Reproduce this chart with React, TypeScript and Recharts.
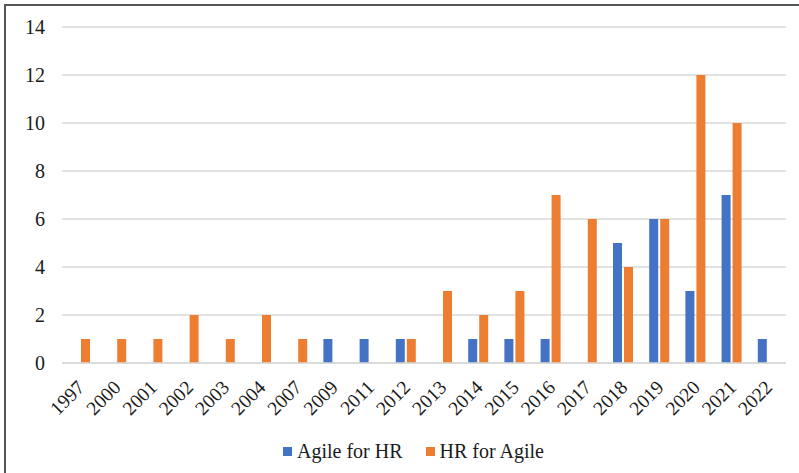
import React from "react";
import { BarChart, Bar, XAxis, YAxis, CartesianGrid } from "recharts";

const years = ["1997","2000","2001","2002","2003","2004","2007","2009","2011","2012","2013","2014","2015","2016","2017","2018","2019","2020","2021","2022"];
const agileForHR = [0,0,0,0,0,0,0,1,1,1,0,1,1,1,0,5,6,3,7,1];
const hrForAgile = [1,1,1,2,1,2,1,0,0,1,3,2,3,7,6,4,6,12,10,0];
const yTicks = [0,2,4,6,8,10,12,14];
const seriesNames = ["Agile for HR","HR for Agile"];
const seriesColors = ["#4472C4","#ED7D31"];

const data = years.map((y, i) => ({ year: y, a: agileForHR[i], h: hrForAgile[i] }));

const FONT = "'Liberation Serif', 'Times New Roman', serif";
const AXIS_Y = 363;

const XTick = (props: any) => {
  const { x, payload } = props;
  const ty = AXIS_Y + 21;
  return (
    <text
      x={x + 1}
      y={ty}
      transform={`rotate(-45, ${x + 1}, ${ty})`}
      textAnchor="end"
      dominantBaseline="central"
      fontFamily={FONT}
      fontSize={19.5}
      fill="#1a1a1a"
    >
      {payload.value}
    </text>
  );
};

export default function App() {
  return (
    <div style={{ position: "absolute", left: 0, top: 0, width: 799, height: 473, background: "#fff", overflow: "hidden" }}>
      <div style={{ position: "absolute", left: 4, top: 4, width: 800, height: 480, borderLeft: "2px solid #555", borderTop: "2px solid #555" }} />
      <BarChart
        width={799}
        height={473}
        data={data}
        margin={{ top: 27, right: 13, left: 0, bottom: 0 }}
        barGap={2}
        barSize={9}
      >
        <CartesianGrid vertical={false} stroke="#d9d9d9" strokeWidth={1.5} />
        <XAxis
          dataKey="year"
          interval={0}
          tickLine={false}
          axisLine={{ stroke: "#d9d9d9", strokeWidth: 1.5 }}
          height={110}
          tick={<XTick />}
        />
        <YAxis
          domain={[0, 14]}
          ticks={yTicks}
          width={62}
          tickLine={false}
          axisLine={false}
          tickSize={0}
          tickMargin={17}
          tick={{ fontFamily: FONT, fontSize: 20, fill: "#1a1a1a" }}
        />
        <Bar dataKey="a" name={seriesNames[0]} fill={seriesColors[0]} isAnimationActive={false} />
        <Bar dataKey="h" name={seriesNames[1]} fill={seriesColors[1]} isAnimationActive={false} />
      </BarChart>
      <div style={{ position: "absolute", left: 283, top: 439, height: 24, display: "flex", alignItems: "center", fontFamily: FONT, fontSize: 20, color: "#1a1a1a", whiteSpace: "nowrap" }}>
        {seriesNames.map((n, i) => (
          <div key={n} style={{ display: "flex", alignItems: "center", marginRight: i === 0 ? 23 : 0 }}>
            <span style={{ display: "inline-block", width: 9, height: 9, background: seriesColors[i], marginRight: 5 }} />
            <span>{n}</span>
          </div>
        ))}
      </div>
    </div>
  );
}
